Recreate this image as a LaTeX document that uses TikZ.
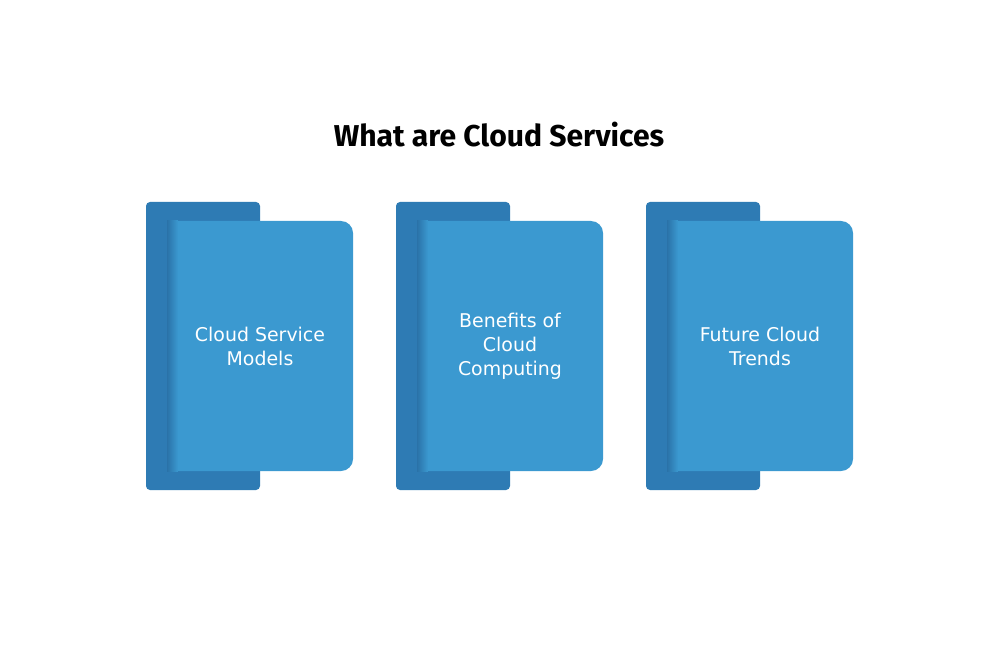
\documentclass[tikz,border=0pt]{standalone}
\usepackage{fontspec}
\setmainfont{Fira Sans}
\newfontfamily\cardfont{DejaVu Sans}
\definecolor{backblue}{HTML}{2E7BB4}
\definecolor{frontblue}{HTML}{3B99D0}
\definecolor{shadeblue}{HTML}{2A72A8}
\tikzset{
  back/.style={fill=backblue, rounded corners=3pt},
  card/.style={fill=frontblue, rounded corners=9pt, minimum width=139.5pt, minimum height=187.5pt,
    text=white, align=center, font=\cardfont\fontsize{14.2}{18}\selectfont, inner sep=0pt},
  edge/.style={left color=shadeblue, right color=frontblue}
}
\begin{document}
\begin{tikzpicture}[x=0.75pt,y=-0.75pt]
\useasboundingbox[fill=white] (0,0) rectangle (998,652);
\node[font=\fontsize{22.6}{27}\selectfont\bfseries] (title) at (499,135) {What are Cloud Services};
% first card
\fill[back] (146,202) rectangle (260,490);
\node[card] (models) at (260,346) {Cloud Service\\Models};
\fill[frontblue] (167,221) rectangle (190,471);
\shade[edge] (167,221) rectangle (178,471);
% second card
\fill[back] (396,202) rectangle (510,490);
\node[card] (benefits) at (510,346) {Benefits of\\Cloud\\Computing};
\fill[frontblue] (417,221) rectangle (440,471);
\shade[edge] (417,221) rectangle (428,471);
% third card
\fill[back] (646,202) rectangle (760,490);
\node[card] (trends) at (760,346) {Future Cloud\\Trends};
\fill[frontblue] (667,221) rectangle (690,471);
\shade[edge] (667,221) rectangle (678,471);
\end{tikzpicture}
\end{document}
